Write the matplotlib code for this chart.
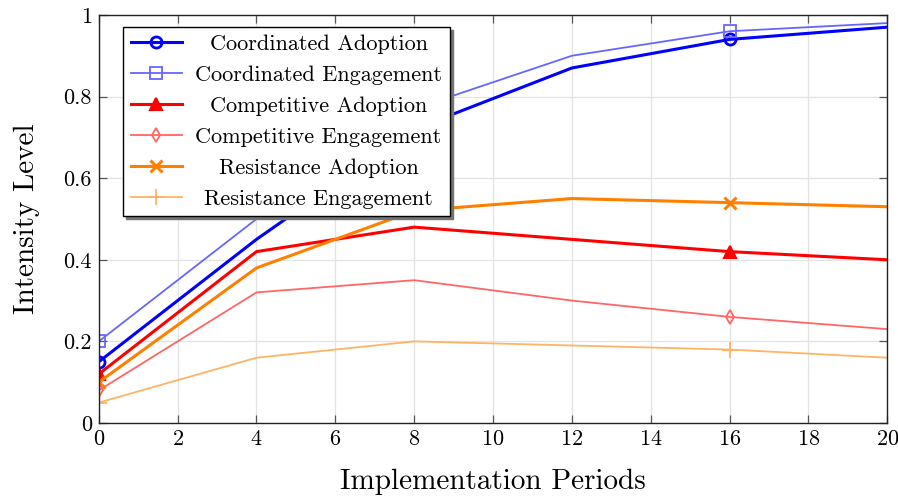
import matplotlib
matplotlib.use("Agg")
import matplotlib.pyplot as plt
import numpy as np

plt.rcParams['font.family'] = 'serif'
plt.rcParams['font.serif'] = ['cmr10']
plt.rcParams['mathtext.fontset'] = 'cm'
plt.rcParams['axes.formatter.use_mathtext'] = True

periods = [0, 4, 8, 12, 16, 20]
coord_adoption = [0.15, 0.45, 0.72, 0.87, 0.94, 0.97]
coord_engagement = [0.20, 0.50, 0.77, 0.90, 0.96, 0.98]
comp_adoption = [0.12, 0.42, 0.48, 0.45, 0.42, 0.40]
comp_engagement = [0.08, 0.32, 0.35, 0.30, 0.26, 0.23]
resist_adoption = [0.10, 0.38, 0.52, 0.55, 0.54, 0.53]
resist_engagement = [0.05, 0.16, 0.20, 0.19, 0.18, 0.16]

labels = ["Coordinated Adoption", "Coordinated Engagement", "Competitive Adoption",
          "Competitive Engagement", "Resistance Adoption", "Resistance Engagement"]
xticks = [0, 2, 4, 6, 8, 10, 12, 14, 16, 18, 20]
yticks = [0, 0.2, 0.4, 0.6, 0.8, 1.0]
ytick_labels = ["0", "0.2", "0.4", "0.6", "0.8", "1"]

fig = plt.figure(figsize=(8.98, 4.98), dpi=100)
ax = fig.add_axes([0.110, 0.1506, 0.878, 0.8194])

styles = [
    dict(color='#0000ff', lw=2.2, marker='o', mfc='none', ms=8, mew=2.0),
    dict(color='#6666ff', lw=1.3, marker='s', mfc='none', ms=8, mew=1.3),
    dict(color='#ff0000', lw=2.2, marker='^', mfc='#ff0000', ms=8, mew=1.5),
    dict(color='#ff6666', lw=1.3, marker='d', mfc='none', ms=7, mew=1.3),
    dict(color='#ff8000', lw=2.2, marker='x', ms=8, mew=2.2),
    dict(color='#ffb366', lw=1.3, marker='+', ms=11, mew=1.3),
]
series = [coord_adoption, coord_engagement, comp_adoption, comp_engagement,
          resist_adoption, resist_engagement]
for s, lab, st in zip(series, labels, styles):
    ax.plot(periods, s, label=lab, markevery=[0, 4], **st)

ax.set_xlim(0, 20)
ax.set_ylim(0, 1)
ax.set_xticks(xticks)
ax.set_yticks(yticks)
ax.set_yticklabels(ytick_labels)
ax.grid(True, color='#e3e3e3', lw=0.9)
ax.set_axisbelow(True)
ax.tick_params(direction='in', length=6, width=0.9, color='#555555',
               top=True, right=True, labelsize=16, pad=5)
for sp in ax.spines.values():
    sp.set_linewidth(1.0)
    sp.set_color('#222222')

ax.set_xlabel("Implementation Periods", fontsize=21, labelpad=14)
ax.set_ylabel("Intensity Level", fontsize=21, labelpad=17)

leg = ax.legend(loc='upper left', bbox_to_anchor=(0.0305, 0.971), fontsize=16,
                frameon=True, fancybox=False,
                shadow={'color': '0.45', 'alpha': 1.0}, edgecolor='black',
                framealpha=1, handlelength=2.3, labelspacing=0.51,
                borderpad=0.35, handletextpad=0.6, borderaxespad=0)
leg.get_frame().set_linewidth(1.0)

# center legend text in column (pgfplots style)
fig.canvas.draw()
r = fig.canvas.get_renderer()
texts = leg.get_texts()
widths = [t.get_window_extent(r).width for t in texts]
mw = max(widths)
for t, w in zip(texts, widths):
    t.set_x((mw - w) / 2)

fig.savefig("out.png", dpi=100)
